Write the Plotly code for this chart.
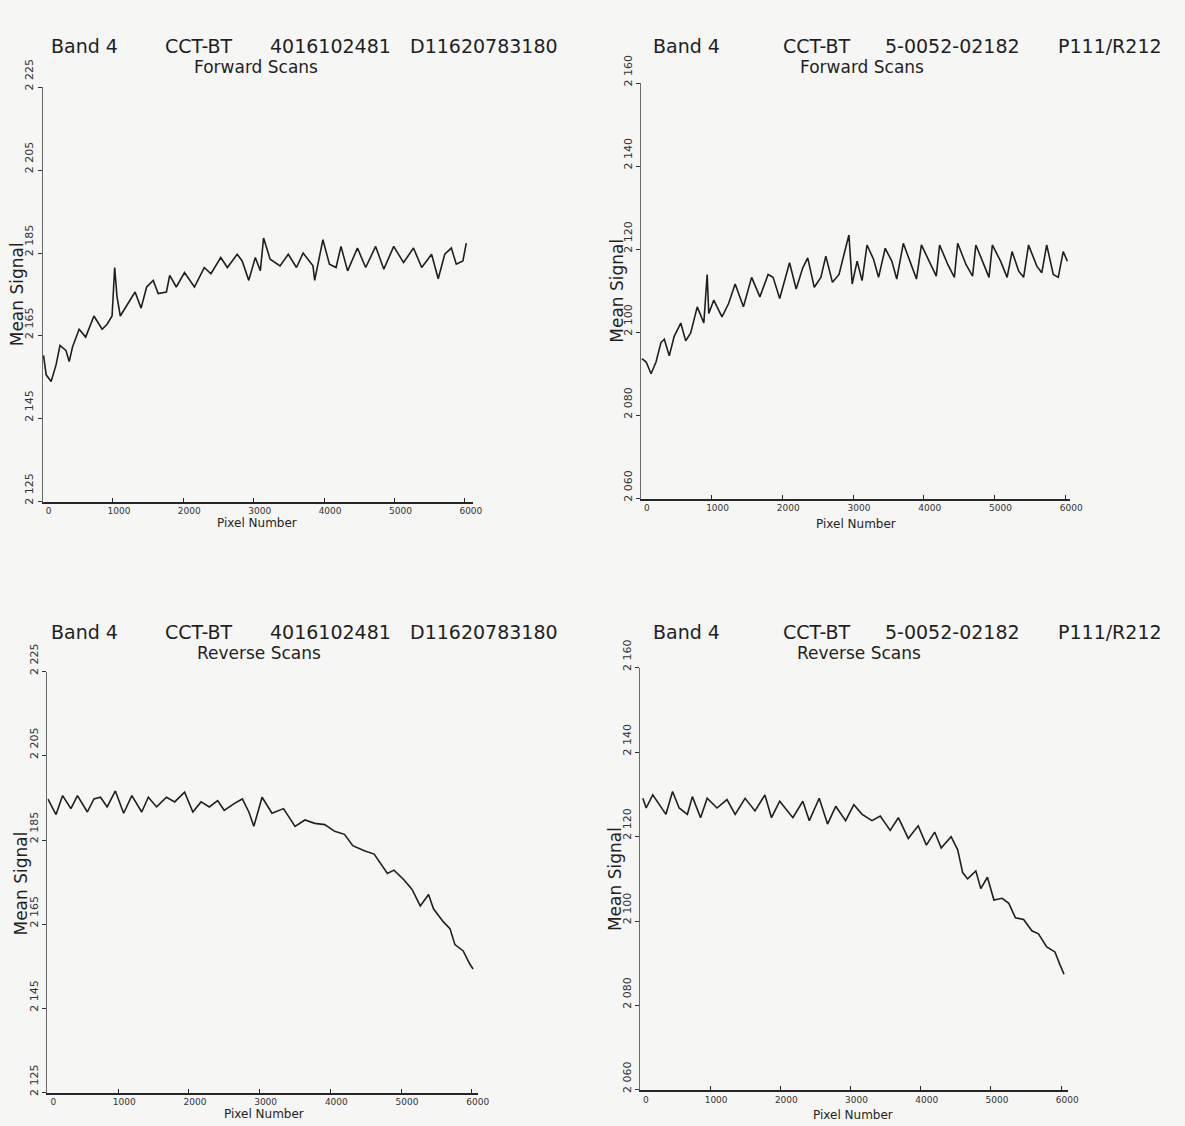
import plotly.graph_objects as go

W, H = 1185, 1126

# ---------------- data ----------------
x_tick_vals = [0, 1000, 2000, 3000, 4000, 5000, 6000]
x_tick_text = ["0", "1000", "2000", "3000", "4000", "5000", "6000"]

yl_tick_vals = [2125, 2145, 2165, 2185, 2205, 2225]
yl_tick_text = ["2 125", "2 145", "2 165", "2 185", "2 205", "2 225"]
yr_tick_vals = [2060, 2080, 2100, 2120, 2140, 2160]
yr_tick_text = ["2 060", "2 080", "2 100", "2 120", "2 140", "2 160"]

# Top-left: CCT-BT 4016102481, forward scans
fwd_a_px = [14, 52, 122, 192, 248, 332, 379, 426, 520, 613, 730, 847, 917, 988, 1025,
            1058, 1105, 1222, 1315, 1400, 1479, 1573, 1643, 1760, 1807, 1900, 2017,
            2158, 2298, 2392, 2532, 2626, 2766, 2836, 2930, 3023, 3094, 3140, 3234,
            3374, 3491, 3608, 3702, 3842, 3866, 3983, 4076, 4170, 4240, 4334, 4474,
            4591, 4732, 4849, 4989, 5129, 5270, 5387, 5527, 5621, 5714, 5808, 5878,
            5972, 6020]
fwd_a_sig = [2160.3, 2155.6, 2154.0, 2158.0, 2162.7, 2161.5, 2158.8, 2162.3, 2166.6,
             2164.7, 2169.8, 2166.6, 2167.8, 2169.8, 2181.5, 2174.5, 2169.8, 2172.9,
             2175.6, 2171.7, 2176.8, 2178.4, 2175.2, 2175.6, 2179.6, 2176.8, 2180.3,
             2176.8, 2181.5, 2180.0, 2183.9, 2181.5, 2184.7, 2183.1, 2178.4, 2183.9,
             2180.7, 2188.6, 2183.5, 2181.9, 2184.7, 2181.5, 2185.0, 2181.9, 2178.4,
             2188.2, 2182.3, 2181.5, 2186.6, 2180.7, 2186.2, 2181.5, 2186.6, 2181.1,
             2186.6, 2182.7, 2186.2, 2181.5, 2184.7, 2178.8, 2184.7, 2186.2, 2182.3,
             2183.1, 2187.4]

# Top-right: CCT-BT 5-0052-02182, forward scans
fwd_b_px = [14, 75, 144, 214, 284, 331, 401, 471, 564, 634, 704, 797, 890, 937, 960,
            1030, 1147, 1240, 1333, 1450, 1566, 1683, 1799, 1869, 1963, 2033, 2102,
            2196, 2289, 2359, 2452, 2545, 2615, 2709, 2802, 2872, 2942, 2988, 3058,
            3128, 3198, 3291, 3361, 3455, 3548, 3618, 3711, 3804, 3897, 3967, 4084,
            4177, 4224, 4340, 4433, 4480, 4597, 4690, 4737, 4853, 4923, 4970, 5086,
            5179, 5249, 5343, 5412, 5482, 5599, 5669, 5739, 5832, 5902, 5972, 6030]
fwd_b_sig = [2093.7, 2092.9, 2090.1, 2092.9, 2097.6, 2098.4, 2094.4, 2099.1, 2102.3,
             2098.0, 2099.9, 2106.2, 2102.3, 2114.0, 2104.6, 2107.8, 2103.8, 2107.0,
             2111.7, 2106.2, 2113.3, 2108.6, 2114.0, 2113.3, 2108.2, 2112.5, 2116.8,
             2110.5, 2115.6, 2118.0, 2110.9, 2113.3, 2118.4, 2112.1, 2114.0, 2118.8,
             2123.5, 2111.7, 2117.2, 2112.5, 2121.1, 2117.6, 2113.3, 2120.3, 2117.2,
             2112.9, 2121.5, 2117.2, 2112.9, 2121.1, 2116.8, 2113.6, 2121.1, 2116.4,
             2113.3, 2121.5, 2116.4, 2113.6, 2121.1, 2116.4, 2113.3, 2121.1, 2117.2,
             2113.3, 2119.5, 2114.8, 2113.3, 2121.1, 2116.0, 2114.4, 2121.1, 2114.0,
             2113.3, 2119.5, 2117.2]

# Bottom-left: CCT-BT 4016102481, reverse scans
rev_a_px = [5, 121, 214, 331, 424, 564, 657, 750, 844, 960, 1077, 1193, 1333, 1426,
            1543, 1683, 1799, 1939, 2056, 2172, 2289, 2406, 2499, 2639, 2755, 2848,
            2918, 3035, 3175, 3338, 3501, 3641, 3781, 3921, 4061, 4200, 4317, 4480,
            4620, 4807, 4900, 5040, 5156, 5272, 5389, 5459, 5599, 5692, 5762, 5879,
            5972, 6018]
rev_a_sig = [2194.8, 2191.1, 2195.6, 2192.5, 2195.6, 2191.7, 2194.8, 2195.2, 2192.9,
             2196.7, 2191.4, 2195.6, 2191.7, 2195.2, 2192.9, 2195.2, 2194.1, 2196.4,
             2191.7, 2194.1, 2192.9, 2194.4, 2192.1, 2193.7, 2194.8, 2191.7, 2188.3,
             2195.2, 2191.4, 2192.5, 2188.3, 2189.8, 2189.0, 2188.7, 2187.1, 2186.4,
             2183.7, 2182.5, 2181.7, 2177.1, 2177.9, 2175.6, 2173.3, 2169.4, 2172.1,
             2168.7, 2165.6, 2164.0, 2160.2, 2158.7, 2155.6, 2154.4]

# Bottom-right: CCT-BT 5-0052-02182, reverse scans
rev_b_px = [42, 89, 183, 301, 371, 465, 559, 676, 747, 864, 958, 1099, 1240, 1357,
            1498, 1639, 1780, 1874, 1991, 2179, 2320, 2413, 2554, 2672, 2789, 2930,
            3047, 3165, 3305, 3423, 3564, 3681, 3822, 3963, 4080, 4198, 4291, 4432,
            4526, 4597, 4667, 4784, 4855, 4949, 5042, 5160, 5254, 5348, 5465, 5582,
            5676, 5794, 5911, 5982, 6040]
rev_b_sig = [2129.1, 2126.8, 2129.9, 2127.2, 2125.3, 2130.7, 2126.8, 2125.3, 2129.5,
             2124.5, 2129.1, 2126.8, 2128.8, 2125.3, 2129.1, 2126.1, 2129.9, 2124.5,
             2128.4, 2124.5, 2128.4, 2123.8, 2129.1, 2123.0, 2127.2, 2123.8, 2127.6,
             2125.3, 2123.8, 2124.9, 2121.5, 2124.5, 2119.6, 2122.6, 2118.0, 2121.1,
             2117.3, 2120.0, 2116.9, 2111.5, 2110.0, 2111.9, 2107.7, 2110.4, 2105.0,
             2105.4, 2104.2, 2100.8, 2100.4, 2097.7, 2097.0, 2093.9, 2092.7, 2089.7,
             2087.4]

# ---------------- layout helpers ----------------
FONT = "DejaVu Sans"
INK = "#1f1f1f"
PAPER_BG = "#f6f6f4"


def px_x(p):
    return p / W


def px_y(p):
    return 1 - p / H


panels = [
    dict(px=fwd_a_px, sig=fwd_a_sig, x0=43, x1=478, xmax=6112, ybot=487, ytop=61,
         yr=[2125, 2225], tv=yl_tick_vals, tt=yl_tick_text),
    dict(px=fwd_b_px, sig=fwd_b_sig, x0=648, x1=1082, xmax=6070, ybot=484, ytop=57,
         yr=[2060, 2160], tv=yr_tick_vals, tt=yr_tick_text),
    dict(px=rev_a_px, sig=rev_a_sig, x0=48, x1=483, xmax=6084, ybot=1095, ytop=662,
         yr=[2125, 2225], tv=yl_tick_vals, tt=yl_tick_text),
    dict(px=rev_b_px, sig=rev_b_sig, x0=647, x1=1080, xmax=6099, ybot=1092, ytop=658,
         yr=[2060, 2160], tv=yr_tick_vals, tt=yr_tick_text),
]

fig = go.Figure()
layout_axes = {}
for i, p in enumerate(panels, start=1):
    xa = "x" if i == 1 else f"x{i}"
    ya = "y" if i == 1 else f"y{i}"
    fig.add_trace(go.Scatter(x=p["px"], y=p["sig"], mode="lines", xaxis=xa, yaxis=ya,
                             line=dict(color=INK, width=1.6), showlegend=False,
                             hoverinfo="skip"))
    xkey = "xaxis" if i == 1 else f"xaxis{i}"
    ykey = "yaxis" if i == 1 else f"yaxis{i}"
    layout_axes[xkey] = dict(
        domain=[px_x(p["x0"]), px_x(p["x1"])], range=[0, p["xmax"]], anchor=ya,
        showgrid=False, zeroline=False, showline=True, linecolor="#262626", linewidth=1.6,
        ticks="inside", ticklen=4, tickwidth=1, tickcolor="#262626",
        tickvals=x_tick_vals, ticktext=x_tick_text,
        tickfont=dict(family=FONT, size=9, color="#333"), ticklabelstandoff=0,
        ticklabelshift=6,
    )
    layout_axes[ykey] = dict(
        domain=[px_y(p["ybot"]), px_y(p["ytop"])], range=p["yr"], anchor=xa,
        showgrid=False, zeroline=False, showline=True, linecolor="#6a6a6a", linewidth=1,
        ticks="outside", ticklen=4, tickwidth=1.2, tickcolor="#333",
        tickvals=p["tv"], ticktext=p["tt"], tickangle=-90,
        tickfont=dict(family=FONT, size=11, color="#333"), ticklabelshift=-11,
    )

annotations = []


def add_text(text, x, y, size, xanchor="left", angle=0):
    annotations.append(dict(text=text, x=px_x(x), y=px_y(y), xref="paper", yref="paper",
                            xanchor=xanchor, yanchor="middle", showarrow=False,
                            textangle=angle,
                            font=dict(family=FONT, size=size, color=INK)))


# titles
for y1, y2, sub, cx_l, cx_r in [(19, 40, "Forward Scans", 259, 872),
                               (621, 643, "Reverse Scans", 262, 869)]:
    for txt, x in [("Band 4", 50), ("CCT-BT", 165), ("4016102481", 271),
                   ("D11620783180", 413)]:
        add_text(txt, x, y1, 19)
    for txt, x in [("Band 4", 658), ("CCT-BT", 790), ("5-0052-02182", 893),
                   ("P111/R212", 1068)]:
        add_text(txt, x, y1, 19)
    add_text(sub, cx_l, y2, 17, xanchor="center")
    add_text(sub, cx_r, y2, 17, xanchor="center")

# axis titles
for cx, cy in [(260, 509), (865, 510), (267, 1117), (862, 1118)]:
    add_text("Pixel Number", cx, cy, 12, xanchor="center")
for cx, cy in [(18, 274), (623, 270), (21, 880), (622, 875)]:
    add_text("Mean Signal", cx, cy, 17, xanchor="center", angle=-90)

fig.update_layout(
    width=W, height=H, margin=dict(l=0, r=0, t=0, b=0),
    paper_bgcolor=PAPER_BG, plot_bgcolor=PAPER_BG,
    annotations=annotations, showlegend=False, **layout_axes,
)

fig.write_html("out.html")
